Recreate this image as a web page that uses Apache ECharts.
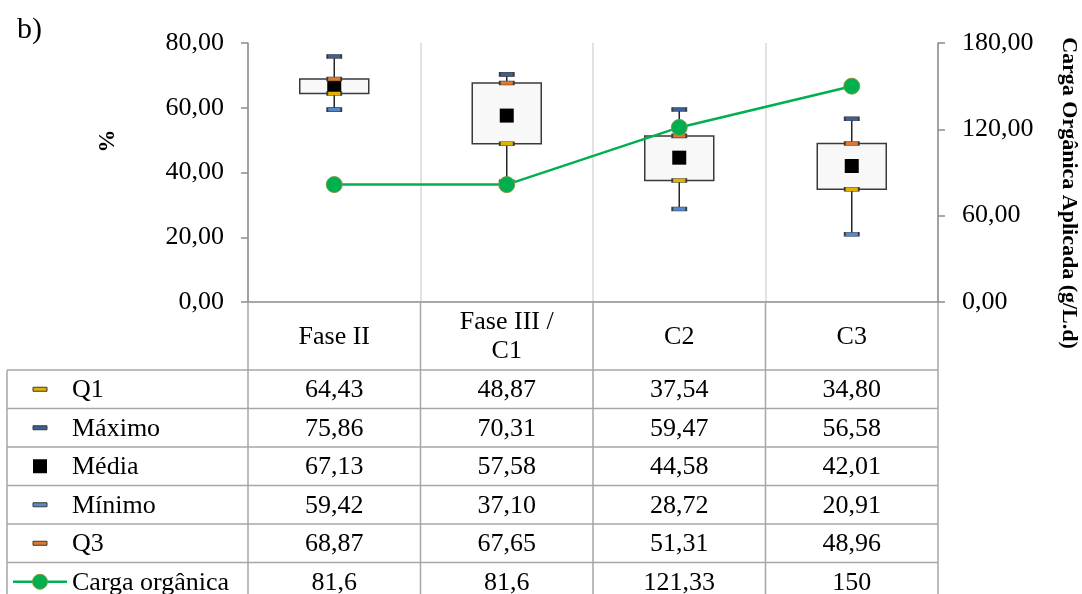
<!DOCTYPE html>
<html>
<head>
<meta charset="utf-8">
<script src="https://cdn.jsdelivr.net/npm/echarts@6/dist/echarts.min.js"></script>
<style>
  html, body { margin: 0; padding: 0; background: #fff; }
  #chart { width: 1082px; height: 594px; }
</style>
</head>
<body>
<div id="chart"></div>
<script>
const categories = ["Fase II", "Fase III /\nC1", "C2", "C3"];
const q1 = [64.43, 48.87, 37.54, 34.80];
const maximo = [75.86, 70.31, 59.47, 56.58];
const media = [67.13, 57.58, 44.58, 42.01];
const minimo = [59.42, 37.10, 28.72, 20.91];
const q3 = [68.87, 67.65, 51.31, 48.96];
const carga = [81.6, 81.6, 121.33, 150];

const leftAxis = { min: 0, max: 80, interval: 20 };
const rightAxis = { min: 0, max: 180, interval: 60 };

const FONT = "Liberation Serif";
const GRID = { left: 248, right: 938, top: 43, bottom: 302 };
const ROW_TOP = 370, ROW_H = 38.5, TABLE_LEFT = 7;
const LINE_GRAY = "#a6a6a6", AXIS_GRAY = "#8c8c8c";

const colors = {
  q1: "#e6b000",
  max: "#3d5f96",
  media: "#000000",
  min: "#5689cc",
  q3: "#e0782f",
  carga: "#00b050"
};

function fmt2(v) { return v.toFixed(2).replace(".", ","); }
function fmtRaw(v) { return String(v).replace(".", ","); }

const rows = [
  { name: "Q1", values: q1, key: "dash", color: colors.q1, fmt: fmt2 },
  { name: "Máximo", values: maximo, key: "dash", color: colors.max, fmt: fmt2 },
  { name: "Média", values: media, key: "square", color: colors.media, fmt: fmt2 },
  { name: "Mínimo", values: minimo, key: "dash", color: colors.min, fmt: fmt2 },
  { name: "Q3", values: q3, key: "dash", color: colors.q3, fmt: fmt2 },
  { name: "Carga orgânica", values: carga, key: "line", color: colors.carga, fmt: fmtRaw }
];

const boxData = categories.map((c, i) => [i, minimo[i], q1[i], q3[i], maximo[i]]);

function capSeries(name, values, color) {
  return {
    name: name,
    type: "scatter",
    symbol: "rect",
    symbolSize: [14, 4],
    z: 4,
    itemStyle: { color: color, borderColor: "#3a3a3a", borderWidth: 1, opacity: 1 },
    data: values.map((v, i) => [i, v])
  };
}

const chart = echarts.init(document.getElementById("chart"));
chart.setOption({
  animation: false,
  grid: { left: GRID.left, right: 1082 - GRID.right, top: GRID.top, bottom: 594 - GRID.bottom },
  xAxis: {
    type: "category",
    data: categories,
    boundaryGap: true,
    axisLine: { show: true, lineStyle: { color: AXIS_GRAY, width: 1.5 } },
    axisTick: { show: false },
    axisLabel: { show: false },
    splitLine: { show: true, lineStyle: { color: "#d9d9d9", width: 1.5 } }
  },
  yAxis: [
    {
      type: "value",
      min: leftAxis.min, max: leftAxis.max, interval: leftAxis.interval,
      axisLine: { show: true, lineStyle: { color: AXIS_GRAY, width: 1.5 } },
      axisTick: { show: true, length: 7, lineStyle: { color: AXIS_GRAY, width: 1.5 } },
      splitLine: { show: false },
      axisLabel: { margin: 24, color: "#000", fontFamily: FONT, fontSize: 26, formatter: fmt2 }
    },
    {
      type: "value",
      position: "right",
      min: rightAxis.min, max: rightAxis.max, interval: rightAxis.interval,
      axisLine: { show: true, lineStyle: { color: AXIS_GRAY, width: 1.5 } },
      axisTick: { show: true, length: 7, lineStyle: { color: AXIS_GRAY, width: 1.5 } },
      splitLine: { show: false },
      axisLabel: { margin: 24, color: "#000", fontFamily: FONT, fontSize: 26, formatter: fmt2 }
    }
  ],
  series: [
    {
      name: "box",
      type: "custom",
      z: 2,
      data: boxData,
      encode: { x: 0, y: [1, 2, 3, 4] },
      renderItem: function (params, api) {
        const i = api.value(0);
        const pMin = api.coord([i, api.value(1)]);
        const pQ1 = api.coord([i, api.value(2)]);
        const pQ3 = api.coord([i, api.value(3)]);
        const pMax = api.coord([i, api.value(4)]);
        const w = api.size([1, 0])[0] * 0.4;
        return {
          type: "group",
          children: [
            { type: "line", shape: { x1: pMax[0], y1: pMax[1], x2: pMin[0], y2: pMin[1] },
              style: { stroke: "#262626", lineWidth: 1.5 } },
            { type: "rect", shape: { x: pQ3[0] - w / 2, y: pQ3[1], width: w, height: pQ1[1] - pQ3[1] },
              style: { fill: "#f8f8f8", stroke: "#3a3a3a", lineWidth: 1.5 } }
          ]
        };
      }
    },
    capSeries("Q1", q1, colors.q1),
    capSeries("Máximo", maximo, colors.max),
    {
      name: "Média",
      type: "scatter",
      symbol: "rect",
      symbolSize: 14,
      z: 4,
      itemStyle: { color: "#000", opacity: 1 },
      data: media.map((v, i) => [i, v])
    },
    capSeries("Mínimo", minimo, colors.min),
    capSeries("Q3", q3, colors.q3),
    {
      name: "Carga orgânica",
      type: "line",
      yAxisIndex: 1,
      z: 6,
      symbol: "circle",
      symbolSize: 16,
      lineStyle: { color: colors.carga, width: 2.5 },
      itemStyle: { color: colors.carga, borderColor: "#7f9a3c", borderWidth: 1, opacity: 1 },
      data: carga
    }
  ]
});

// tabela de dados (estilo Excel) desenhada por baixo do gráfico
const g = [];
const centers = categories.map((c, i) => chart.convertToPixel({ xAxisIndex: 0 }, i));
const bounds = [GRID.left];
for (let i = 1; i < categories.length; i++) bounds.push((centers[i - 1] + centers[i]) / 2);
bounds.push(GRID.right);
const tableBottom = ROW_TOP + ROW_H * rows.length;
const CELL_FONT = "26px '" + FONT + "'";

function hline(x1, x2, y) {
  g.push({ type: "line", shape: { x1: x1, y1: y, x2: x2, y2: y }, style: { stroke: LINE_GRAY, lineWidth: 1.5 }, z: 10 });
}
function vline(x, y1, y2) {
  g.push({ type: "line", shape: { x1: x, y1: y1, x2: x, y2: y2 }, style: { stroke: LINE_GRAY, lineWidth: 1.5 }, z: 10 });
}
function txt(s, x, y, align) {
  g.push({
    type: "text", x: x, y: y, z: 11,
    style: { text: s, fill: "#000", font: CELL_FONT, align: align, verticalAlign: "middle" }
  });
}

// linhas
for (let r = 0; r <= rows.length; r++) hline(TABLE_LEFT, GRID.right, ROW_TOP + r * ROW_H);
vline(TABLE_LEFT, ROW_TOP, tableBottom);
bounds.forEach((x) => vline(x, GRID.bottom, tableBottom));

// cabeçalho
categories.forEach((c, i) => {
  g.push({
    type: "text", x: centers[i], y: (GRID.bottom + ROW_TOP) / 2 + 1, z: 11,
    style: { text: c, fill: "#000", font: CELL_FONT, align: "center", verticalAlign: "middle", lineHeight: 29 }
  });
});

// linhas de valores com chaves da legenda
rows.forEach((row, r) => {
  const cy = ROW_TOP + r * ROW_H + ROW_H / 2;
  if (row.key === "dash") {
    g.push({ type: "rect", z: 11, shape: { x: 33, y: cy - 2, width: 14, height: 4 },
      style: { fill: row.color, stroke: "#3a3a3a", lineWidth: 1 } });
  } else if (row.key === "square") {
    g.push({ type: "rect", z: 11, shape: { x: 33, y: cy - 7, width: 14, height: 14 }, style: { fill: "#000" } });
  } else {
    g.push({ type: "line", z: 11, shape: { x1: 13, y1: cy, x2: 67, y2: cy }, style: { stroke: row.color, lineWidth: 2.5 } });
    g.push({ type: "circle", z: 12, shape: { cx: 40, cy: cy, r: 7.5 }, style: { fill: row.color, stroke: "#7f9a3c", lineWidth: 1 } });
  }
  txt(row.name, 72, cy + 1, "left");
  row.values.forEach((v, i) => txt(row.fmt(v), centers[i], cy + 1, "center"));
});

// títulos
g.push({ type: "text", x: 17, y: 30, z: 11,
  style: { text: "b)", fill: "#000", font: "30px '" + FONT + "'", align: "left", verticalAlign: "middle" } });
g.push({ type: "text", x: 108, y: 141, rotation: Math.PI / 2, z: 11,
  style: { text: "%", fill: "#000", font: "bold 23px '" + FONT + "'", align: "center", verticalAlign: "middle" } });
g.push({ type: "text", x: 1069, y: 193, rotation: -Math.PI / 2, z: 11,
  style: { text: "Carga Orgânica Aplicada (g/L.d)", fill: "#000", font: "bold 22px '" + FONT + "'", align: "center", verticalAlign: "middle" } });

chart.setOption({ graphic: { elements: g } });
</script>
</body>
</html>
